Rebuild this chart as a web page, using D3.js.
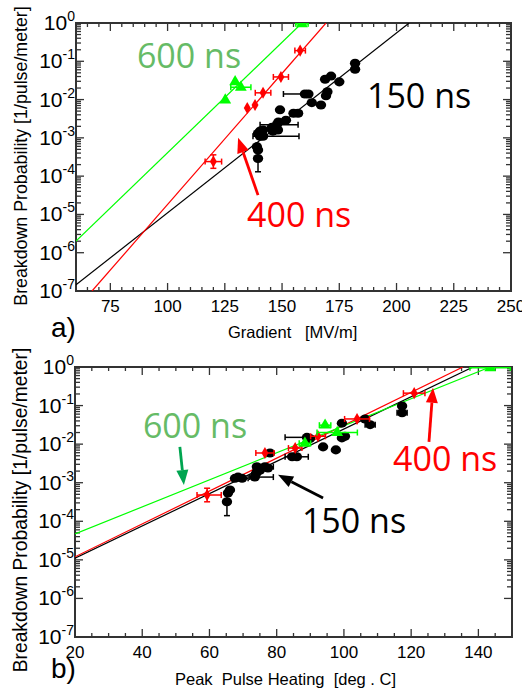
<!DOCTYPE html>
<html>
<head>
<meta charset="utf-8">
<title>Breakdown probability</title>
<script src="https://d3js.org/d3.v7.min.js"></script>
<style>
  body { margin: 0; background: #fff; font-family: "Liberation Sans", Arial, sans-serif; }
  .note { font-family: "Open Sans", sans-serif; font-size: 34px; }
  .ttl { white-space: pre; }
</style>
</head>
<body>
<div id="graphic"></div>
<script>
// ---- data: [x, P, xErrMinus, xErrPlus, pLow, pHigh] (0 = no bar) ----
// panel a) : gradient in MV/m
var grad150 = [
  [181.9, 0.089, 0, 0, 0, 0], [181.9, 0.062, 0, 0, 0, 0], [171.4, 0.041, 0, 0, 0, 0],
  [168.8, 0.034, 0, 0, 0, 0], [175.0, 0.029, 0, 0, 0, 0], [160.0, 0.014, 9.4, 0, 0, 0],
  [161.5, 0.014, 0, 0, 0, 0], [169.8, 0.016, 0, 0, 0, 0], [169.2, 0.0126, 0, 0, 0, 0],
  [163.0, 0.0083, 0, 0, 0, 0], [167.0, 0.0072, 0, 0, 0, 0], [149.1, 0.0054, 0, 0, 0, 0],
  [155.0, 0.0044, 0, 0, 0, 0], [157.0, 0.0044, 0, 1.5, 0, 0], [151.7, 0.0029, 0, 0, 0, 0],
  [148.4, 0.0026, 0, 0, 0, 0], [147.7, 0.0022, 7.3, 9.3, 0, 0], [145.6, 0.0019, 0, 0, 0, 0],
  [147.0, 0.0017, 0, 0, 0, 0], [148.2, 0.0016, 0, 0, 0, 0], [146.0, 0.0015, 0, 0, 0, 0],
  [141.7, 0.0016, 0, 0, 0, 0], [140.4, 0.0015, 0, 0, 0, 0], [139.5, 0.0013, 0, 0, 0, 0],
  [140.4, 0.0011, 3.1, 17.0, 0, 0], [141.7, 0.0011, 0, 0, 0, 0], [139.0, 0.00059, 0, 0, 0, 0],
  [139.5, 0.00048, 0, 0, 0, 0], [139.5, 0.00029, 0, 0, 0.00013, 0.00045]
];
var grad400 = [
  [120.0, 0.00024, 3.6, 3.6, 0.00016, 0.00036], [134.8, 0.0060, 0, 0, 0, 0],
  [138.2, 0.0072, 0, 0, 0, 0], [141.7, 0.015, 3.4, 3.4, 0, 0],
  [149.5, 0.039, 3.3, 3.3, 0, 0], [157.9, 0.19, 2.3, 2.3, 0, 0]
];
var grad600 = [
  [125.2, 0.0097, 0, 0, 0, 0], [129.5, 0.029, 0, 0, 0, 0],
  [132.0, 0.021, 4.4, 4.4, 0, 0], [158.7, 0.95, 2.7, 2.7, 0, 0]
];
// fit lines: [x0, P0, x1, P1]
var gradFits = { "150": [60, 1.45e-7, 205.5, 1], "400": [67, 1e-7, 169.2, 1], "600": [60, 2e-6, 158.7, 1] };

// panel b) : peak pulse heating in deg C
var heat150 = [
  [65.2, 0.00032, 0, 0, 0.00014, 0.0005], [65.5, 0.00054, 0, 0, 0, 0], [66.1, 0.00065, 0, 0, 0, 0],
  [67.6, 0.0013, 0, 3.9, 0, 0], [68.5, 0.0014, 0, 0, 0, 0], [69.7, 0.0013, 0, 0, 0, 0],
  [74.1, 0.0026, 0, 0, 0, 0], [74.1, 0.0019, 0, 0, 0, 0], [75.0, 0.0021, 0, 0, 0, 0],
  [76.5, 0.0026, 0, 2.5, 0, 0], [77.4, 0.0024, 0, 0, 0, 0], [73.5, 0.0014, 1.5, 5.5, 0, 0],
  [73.8, 0.0017, 0, 0, 0, 0], [78.0, 0.0059, 0, 0, 0, 0], [84.6, 0.0047, 2.1, 4.8, 0, 0],
  [86.0, 0.0047, 0, 0, 0, 0], [89.0, 0.015, 6.5, 0, 0, 0], [89.9, 0.014, 0, 0, 0, 0],
  [93.8, 0.0085, 0, 0, 0, 0], [97.6, 0.0071, 0, 0, 0, 0], [99.4, 0.035, 0, 0, 0, 0],
  [99.4, 0.0145, 0, 0, 0, 0], [100.3, 0.016, 0, 0, 0, 0], [106.3, 0.045, 0, 0, 0, 0],
  [107.8, 0.032, 1.5, 1.5, 0, 0], [117.3, 0.098, 0, 0, 0, 0], [117.3, 0.065, 1.5, 1.5, 0, 0]
];
var heat400 = [
  [59.3, 0.00048, 3.0, 4.2, 0.00032, 0.00072], [76.5, 0.0059, 2.7, 2.7, 0, 0],
  [85.5, 0.0079, 2.0, 2.0, 0, 0], [92.3, 0.016, 2.2, 2.2, 0, 0],
  [103.9, 0.045, 3.7, 3.7, 0, 0], [120.9, 0.21, 3.2, 3.2, 0, 0]
];
var heat600 = [
  [88.4, 0.0105, 1.7, 1.7, 0, 0], [94.4, 0.031, 1.7, 1.7, 0, 0],
  [98.0, 0.020, 6.0, 6.0, 0, 0], [143.5, 0.95, 6.0, 6.0, 0, 0]
];
var heatFits = { "150": [20, 1.1e-5, 138.4, 1], "400": [20, 1.2e-5, 135.4, 1], "600": [20, 4.7e-5, 143.5, 1] };

var gradTicks = [75, 100, 125, 150, 175, 200, 225, 250];
var heatTicks = [20, 40, 60, 80, 100, 120, 140];
var decades = [0, -1, -2, -3, -4, -5, -6, -7];

var colors = { "150": "#000000", "400": "#ff0000", "600": "#00ff00" };
var noteColors = { "150": "#000000", "400": "#ff0000", "600": "#66bb66", "arrow600": "#00a550" };

var W = 522, H = 693;
var svg = d3.select("#graphic").append("svg").attr("width", W).attr("height", H);

function panel(o) {
  var x = d3.scaleLinear().domain(o.xDomain).range(o.xRange);
  var y = d3.scaleLog().domain([1e-7, 1]).range([o.yRange[1], o.yRange[0]]);
  var g = svg.append("g");
  var id = "clip" + o.name;
  svg.append("clipPath").attr("id", id).append("rect")
    .attr("x", o.xRange[0]).attr("y", o.yRange[0])
    .attr("width", o.xRange[1] - o.xRange[0]).attr("height", o.yRange[1] - o.yRange[0]);

  // x ticks (bottom + top, pointing in)
  d3.range(o.xDomain[0], o.xDomain[1] + 0.01, o.xMinor).forEach(function (v) {
    var len = (v % o.xMajor === 0) ? 8 : 4;
    g.append("line").attr("x1", x(v)).attr("x2", x(v))
      .attr("y1", o.yRange[1]).attr("y2", o.yRange[1] - len).attr("stroke", "#333").attr("stroke-width", 1.3);
    g.append("line").attr("x1", x(v)).attr("x2", x(v))
      .attr("y1", o.yRange[0]).attr("y2", o.yRange[0] + len).attr("stroke", "#333").attr("stroke-width", 1.3);
  });
  // y log ticks (left + right)
  decades.forEach(function (e) {
    for (var m = 1; m <= 9; m++) {
      var v = m * Math.pow(10, e);
      if (v > 1.0001) break;
      if (e === -7 && m > 1) break;
      var len = m === 1 ? 8 : 5;
      g.append("line").attr("x1", o.xRange[0]).attr("x2", o.xRange[0] + len)
        .attr("y1", y(v)).attr("y2", y(v)).attr("stroke", "#333").attr("stroke-width", 1.3);
      g.append("line").attr("x1", o.xRange[1]).attr("x2", o.xRange[1] - len)
        .attr("y1", y(v)).attr("y2", y(v)).attr("stroke", "#333").attr("stroke-width", 1.3);
    }
  });
  // frame
  g.append("rect").attr("x", o.xRange[0]).attr("y", o.yRange[0])
    .attr("width", o.xRange[1] - o.xRange[0]).attr("height", o.yRange[1] - o.yRange[0])
    .attr("fill", "none").attr("stroke", "#333").attr("stroke-width", 2);

  // tick labels
  o.xTicks.forEach(function (v) {
    g.append("text").attr("x", x(v)).attr("y", o.yRange[1] + 21)
      .attr("text-anchor", "middle").style("font-size", "17px").text(v);
  });
  decades.forEach(function (e) {
    var t = g.append("text").attr("x", o.xRange[0] - 1).attr("y", y(Math.pow(10, e)) + 7)
      .attr("text-anchor", "end").style("font-size", "21px");
    t.append("tspan").text("10");
    t.append("tspan").attr("dy", -9).style("font-size", "14px").text(e === 0 ? "0" : "-" + (-e));
  });

  // axis titles
  g.append("text").attr("class", "ttl").attr("x", o.xTitleX).attr("y", o.xTitleY)
    .style("font-size", "16.5px").text(o.xTitle);
  g.append("text").attr("transform", "translate(" + 27 + "," + o.yTitleY + ") rotate(-90)")
    .attr("text-anchor", "middle").style("font-size", o.yTitleSize + "px")
    .text("Breakdown Probability [1/pulse/meter]");
  g.append("text").attr("x", 51).attr("y", o.tagY).style("font-size", "28px").text(o.tag);

  // fit lines
  var plot = g.append("g").attr("clip-path", "url(#" + id + ")");
  ["150", "400", "600"].forEach(function (k) {
    var f = o.fits[k];
    plot.append("line").attr("x1", x(f[0])).attr("y1", y(f[1]))
      .attr("x2", x(f[2])).attr("y2", y(f[3]))
      .attr("stroke", colors[k]).attr("stroke-width", 1.2);
  });

  // error bars + markers
  function series(data, k, shape) {
    var c = colors[k];
    data.forEach(function (d) {
      if (d[2] || d[3]) {
        var xl = x(d[0] - d[2]), xh = x(d[0] + d[3]), yy = y(d[1]);
        plot.append("line").attr("x1", xl).attr("x2", xh).attr("y1", yy).attr("y2", yy)
          .attr("stroke", c).attr("stroke-width", 1.5);
        [xl, xh].forEach(function (xx) {
          plot.append("line").attr("x1", xx).attr("x2", xx).attr("y1", yy - 3).attr("y2", yy + 3)
            .attr("stroke", c).attr("stroke-width", 1.5);
        });
      }
      if (d[4]) {
        var yl = y(d[4]), yh = y(d[5]), xx = x(d[0]);
        plot.append("line").attr("x1", xx).attr("x2", xx).attr("y1", yl).attr("y2", yh)
          .attr("stroke", c).attr("stroke-width", 1.5);
        [yl, yh].forEach(function (yv) {
          plot.append("line").attr("x1", xx - 3).attr("x2", xx + 3).attr("y1", yv).attr("y2", yv)
            .attr("stroke", c).attr("stroke-width", 1.5);
        });
      }
    });
    data.forEach(function (d) {
      plot.append("path").attr("d", d3.symbol().type(shape.type).size(shape.size)())
        .attr("transform", "translate(" + x(d[0]) + "," + y(d[1]) + ")" + (shape.sx ? " scale(" + shape.sx + ",1)" : ""))
        .attr("fill", c);
    });
  }
  series(o.s150, "150", { type: d3.symbolCircle, size: 64, sx: 1.15 });
  series(o.s400, "400", { type: d3.symbolDiamond, size: 42 });
  series(o.s600, "600", { type: d3.symbolTriangle, size: 60 });

  // annotations
  o.notes.forEach(function (n) {
    g.append("text").attr("class", "note").attr("x", x(n[1])).attr("y", y(n[2]))
      .attr("fill", noteColors[n[0]]).text(n[0] + " ns");
  });
  o.arrows.forEach(function (a) {
    var x1 = x(a[1]), y1 = y(a[2]), x2 = x(a[3]), y2 = y(a[4]);
    var ang = Math.atan2(y2 - y1, x2 - x1), L = 15, Wd = 6;
    var bx = x2 - L * Math.cos(ang), by = y2 - L * Math.sin(ang);
    var col = noteColors[a[0]];
    g.append("line").attr("x1", x1).attr("y1", y1).attr("x2", bx).attr("y2", by)
      .attr("stroke", col).attr("stroke-width", 2.8);
    g.append("path").attr("fill", col).attr("d", "M" + x2 + "," + y2 +
      "L" + (bx + Wd * Math.sin(ang)) + "," + (by - Wd * Math.cos(ang)) +
      "L" + (bx - Wd * Math.sin(ang)) + "," + (by + Wd * Math.cos(ang)) + "Z");
  });
}

panel({
  name: "a", xDomain: [60, 250], xRange: [76, 511], yRange: [23, 291],
  xMinor: 5, xMajor: 25, xTicks: gradTicks,
  xTitle: "Gradient   [MV/m]", xTitleX: 228, xTitleY: 338,
  yTitleY: 156, yTitleSize: 17.8, tag: "a)", tagY: 337,
  fits: gradFits, s150: grad150, s400: grad400, s600: grad600,
  notes: [["600", 86.6, 0.067], ["150", 187.1, 0.006], ["400", 134.7, 4.7e-6]],
  arrows: [["400", 139.5, 3.2e-5, 130.8, 1e-3]]
});

panel({
  name: "b", xDomain: [20, 150], xRange: [75, 512], yRange: [367, 637],
  xMinor: 5, xMajor: 20, xTicks: heatTicks,
  xTitle: "Peak  Pulse Heating  [deg . C]", xTitleX: 175, xTitleY: 685,
  yTitleY: 510, yTitleSize: 19.3, tag: "b)", tagY: 678,
  fits: heatFits, s150: heat150, s400: heat400, s600: heat600,
  notes: [["600", 40.2, 0.0145], ["400", 114.6, 0.002], ["150", 87.5, 5e-5]],
  arrows: [["arrow600", 51.2, 0.0085, 52.4, 8.7e-4], ["400", 125.3, 0.0115, 126.5, 0.29],
           ["150", 93.8, 4e-4, 80.4, 0.0016]]
});
</script>
</body>
</html>
